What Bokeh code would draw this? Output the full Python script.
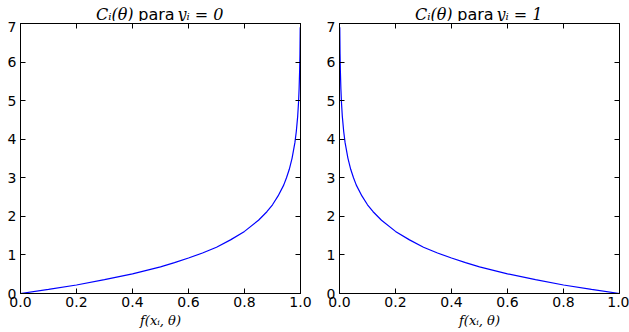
from bokeh.plotting import figure
from bokeh.models import LinearAxis, FixedTicker, Range1d
from bokeh.layouts import row, column
from bokeh.core.properties import value
from bokeh.embed import file_html
from bokeh.resources import INLINE

# Values
x_left = [0.0, 0.1, 0.2, 0.3, 0.4, 0.5, 0.55, 0.6, 0.65, 0.7, 0.75, 0.8, 0.85, 0.88, 0.9, 0.92,
          0.94, 0.95, 0.96, 0.97, 0.98, 0.985, 0.99, 0.993, 0.995, 0.997, 0.998, 0.999]
y_left = [0.0, 0.105, 0.22, 0.36, 0.51, 0.69, 0.8, 0.92, 1.05, 1.2, 1.39, 1.61, 1.9, 2.12, 2.3, 2.53,
          2.81, 3.0, 3.22, 3.51, 3.91, 4.2, 4.6, 4.96, 5.3, 5.81, 6.21, 6.9]

x_right = [0.001, 0.002, 0.003, 0.005, 0.007, 0.01, 0.015, 0.02, 0.03, 0.04, 0.05, 0.06,
           0.08, 0.1, 0.12, 0.15, 0.2, 0.25, 0.3, 0.35, 0.4, 0.45, 0.5, 0.6, 0.7, 0.8, 0.9, 1.0]
y_right = [6.9, 6.21, 5.81, 5.3, 4.96, 4.6, 4.2, 3.91, 3.51, 3.22, 3.0, 2.81,
           2.53, 2.3, 2.12, 1.9, 1.61, 1.39, 1.2, 1.05, 0.92, 0.8, 0.69, 0.51, 0.36, 0.22, 0.105, 0.0]

x_ticks = [0.0, 0.2, 0.4, 0.6, 0.8, 1.0]
x_tick_labels = ["0.0", "0.2", "0.4", "0.6", "0.8", "1.0"]
y_ticks = [0, 1, 2, 3, 4, 5, 6, 7]
title_left = ["Cᵢ(θ)", "para", "yᵢ = 0"]
title_right = ["Cᵢ(θ)", "para", "yᵢ = 1"]
x_label = "f(xᵢ, θ)"

TICK_FONT = "DejaVu Sans"
MATH_FONT = "DejaVu Serif"
HEADER_H = 21


def make_header(width, parts):
    h = figure(width=width, height=HEADER_H, x_range=Range1d(0, width), y_range=Range1d(0, HEADER_H),
               output_backend="svg", toolbar_location=None,
               x_axis_location=None, y_axis_location=None, title_location=None,
               min_border=0, min_border_left=0, min_border_right=0,
               min_border_top=0, min_border_bottom=0)
    h.grid.visible = False
    h.outline_line_color = None
    h.text(x=[133], y=[7], text=[parts[0]], text_align="right", text_baseline="alphabetic",
           text_font=value(MATH_FONT), text_font_style="italic", text_font_size="16px",
           text_color="black")
    h.text(x=[156], y=[7], text=[parts[1]], text_align="center", text_baseline="alphabetic",
           text_font=value(TICK_FONT), text_font_size="16px", text_color="black")
    h.text(x=[177], y=[7], text=[parts[2]], text_align="left", text_baseline="alphabetic",
           text_font=value(MATH_FONT), text_font_style="italic", text_font_size="16px",
           text_color="black")
    return h


def make(xs, ys, border_right):
    p = figure(frame_width=280, frame_height=270,
               x_range=Range1d(0, 1), y_range=Range1d(0, 7),
               output_backend="svg", toolbar_location=None,
               min_border_left=20, min_border_right=border_right,
               min_border_top=23 - HEADER_H, min_border_bottom=39)
    p.grid.visible = False
    p.outline_line_color = "black"
    p.outline_line_alpha = 1
    p.background_fill_color = "white"
    p.border_fill_color = "white"

    for ax in (p.xaxis[0], p.yaxis[0]):
        ax.major_tick_in = 5
        ax.major_tick_out = 0
        ax.minor_tick_line_color = None
        ax.major_label_text_font = TICK_FONT
        ax.major_label_text_font_size = "14px"
        ax.major_label_text_color = "black"
        ax.axis_line_color = "black"
        ax.major_tick_line_color = "black"
    p.xaxis[0].ticker = FixedTicker(ticks=x_ticks)
    p.xaxis[0].major_label_overrides = {t: s for t, s in zip(x_ticks, x_tick_labels)}
    p.xaxis[0].major_label_standoff = 3
    p.yaxis[0].ticker = FixedTicker(ticks=y_ticks)
    p.yaxis[0].major_label_standoff = 4
    p.xaxis[0].axis_label = x_label
    p.xaxis[0].axis_label_text_font = MATH_FONT
    p.xaxis[0].axis_label_text_font_style = "italic"
    p.xaxis[0].axis_label_text_font_size = "13px"
    p.xaxis[0].axis_label_text_color = "black"
    p.xaxis[0].axis_label_standoff = 3

    top = LinearAxis(ticker=FixedTicker(ticks=x_ticks), major_tick_in=5, major_tick_out=0,
                     minor_tick_line_color=None, major_label_text_font_size="1px",
                     major_label_overrides={t: "" for t in x_ticks},
                     major_label_standoff=0)
    right = LinearAxis(ticker=FixedTicker(ticks=y_ticks), major_tick_in=5, major_tick_out=0,
                       minor_tick_line_color=None, major_label_text_font_size="1px",
                       major_label_overrides={t: "" for t in y_ticks},
                       major_label_standoff=0)
    p.add_layout(top, "above")
    p.add_layout(right, "right")

    p.line(xs, ys, line_color="#0000ff", line_width=1.2)
    return p


h1 = make_header(319, title_left)
h2 = make_header(310, title_right)
p1 = make(x_left, y_left, 19)
p2 = make(x_right, y_right, 10)
layout = column(row(h1, h2), row(p1, p2))

open("out.html", "w").write(file_html(layout, INLINE))
